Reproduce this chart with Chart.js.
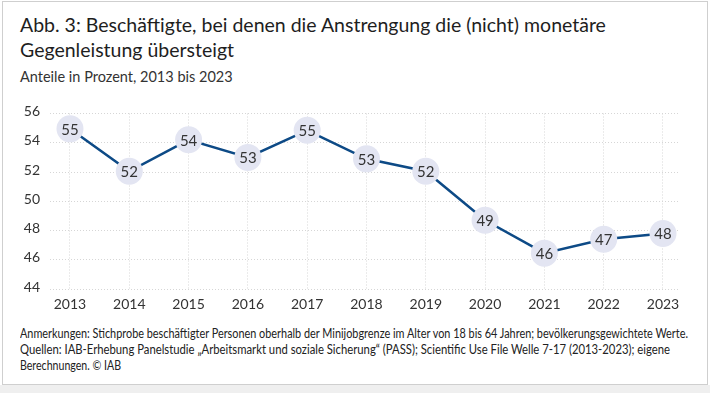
<!DOCTYPE html>
<html>
<head>
<meta charset="utf-8">
<script src="https://cdn.jsdelivr.net/npm/chart.js@4"></script>
<style>
  html, body { margin: 0; padding: 0; background: #fff; }
  body { width: 710px; height: 393px; position: relative; overflow: hidden; font-family: Lato, "Noto Sans", sans-serif; color: #222; }
  #card { position: absolute; left: 2px; top: 1px; width: 704px; height: 382px; border: 1px solid #cfcfcf; }
  #band { position: absolute; left: 0; top: 385px; width: 710px; height: 8px; background: #efefef; }
  .t { position: absolute; left: 20px; white-space: nowrap; }
  #title { top: 13px; font-size: 19.5px; line-height: 24.5px; color: #1e1e1e; }
  #sub { top: 68px; font-size: 14.5px; color: #333; }
  #note { top: 326px; font-size: 12.5px; line-height: 15.8px; color: #222; }
  #note div { transform-origin: 0 50%; white-space: nowrap; }
  #wrap { position: absolute; left: 0; top: 95px; width: 710px; height: 230px; }
</style>
</head>
<body>
<div id="card"></div>
<div id="band"></div>
<div class="t" id="title">Abb. 3: Beschäftigte, bei denen die Anstrengung die (nicht) monetäre<br>Gegenleistung übersteigt</div>
<div class="t" id="sub">Anteile in Prozent, 2013 bis 2023</div>
<div class="t" id="note">
  <div data-w="668">Anmerkungen: Stichprobe beschäftigter Personen oberhalb der Minijobgrenze im Alter von 18 bis 64 Jahren; bevölkerungsgewichtete Werte.</div>
  <div data-w="650">Quellen: IAB-Erhebung Panelstudie „Arbeitsmarkt und soziale Sicherung“ (PASS); Scientific Use File Welle 7-17 (2013-2023); eigene</div>
  <div data-w="101">Berechnungen. © IAB</div>
</div>
<div id="wrap"><canvas id="chart"></canvas></div>
<script>
// data
const years = [2013, 2014, 2015, 2016, 2017, 2018, 2019, 2020, 2021, 2022, 2023];
const shares = [54.95, 52.05, 54.2, 53.0, 54.85, 52.9, 52.05, 48.7, 46.45, 47.4, 47.8];
const yTicks = [44, 46, 48, 50, 52, 54, 56];

// squeeze the footnote lines to the narrow font width of the original
document.querySelectorAll('#note div').forEach(el => {
  const range = document.createRange();
  range.selectNodeContents(el);
  const tw = range.getBoundingClientRect().width;
  el.style.transform = 'scaleX(' + (Number(el.dataset.w) / tw) + ')';
});

const tickFont = { family: 'Lato, "Noto Sans", sans-serif', size: 14 };

// write the rounded value inside each circle
const valueLabels = {
  id: 'valueLabels',
  afterDatasetsDraw(chart) {
    const ctx = chart.ctx;
    const meta = chart.getDatasetMeta(0);
    ctx.save();
    ctx.font = '15px Lato, "Noto Sans", sans-serif';
    ctx.fillStyle = '#333';
    ctx.textAlign = 'center';
    ctx.textBaseline = 'middle';
    meta.data.forEach((pt, i) => {
      ctx.fillText(String(Math.round(shares[i])), pt.x, pt.y + 1);
    });
    ctx.restore();
  }
};

new Chart(document.getElementById('chart'), {
  type: 'line',
  data: {
    datasets: [{
      data: years.map((yr, i) => ({ x: yr, y: shares[i] })),
      borderColor: '#0d4a86',
      borderWidth: 2.5,
      pointRadius: 13.5,
      pointHoverRadius: 13.5,
      pointBackgroundColor: '#e3e5f2',
      pointBorderWidth: 0,
      tension: 0
    }]
  },
  options: {
    responsive: true,
    maintainAspectRatio: false,
    animation: false,
    events: [],
    layout: { padding: { top: 18.5, right: 32, left: 0, bottom: 0 } },
    plugins: { legend: { display: false }, tooltip: { enabled: false } },
    scales: {
      x: {
        type: 'linear',
        min: 2012.663,
        max: 2023.253,
        afterFit(s) { s.height = 36; },
        afterBuildTicks(s) { s.ticks = years.map(v => ({ value: v })); },
        ticks: { font: tickFont, color: '#333', padding: 7, callback: v => String(v) },
        grid: { color: '#d6d6d6', lineWidth: 1, drawTicks: false },
        border: { display: false, dash: [1, 2] }
      },
      y: {
        min: 44,
        max: 56,
        afterFit(s) { s.width = 50; },
        afterBuildTicks(s) { s.ticks = yTicks.map(v => ({ value: v })); },
        ticks: { font: tickFont, color: '#333', padding: 10, labelOffset: -2 },
        grid: { color: '#d6d6d6', lineWidth: 1, drawTicks: false },
        border: { display: false, dash: [1, 2] }
      }
    }
  },
  plugins: [valueLabels]
});
</script>
</body>
</html>
